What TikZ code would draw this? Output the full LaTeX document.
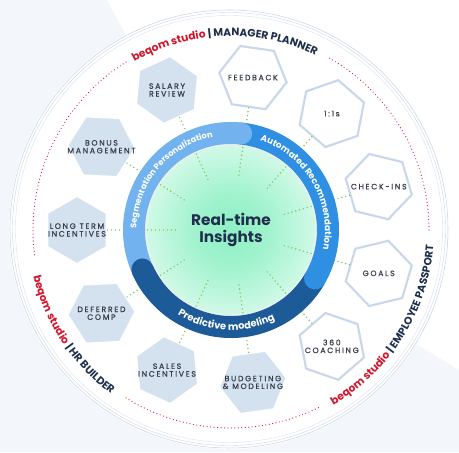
\documentclass[tikz,border=0pt]{standalone}
\usepackage{fontspec}
\setmainfont{Poppins}
\newfontfamily\hexfont[LetterSpace=22,FakeBold=0.6]{Poppins}
\usetikzlibrary{shapes.geometric,decorations.text}

\definecolor{bggrey}{HTML}{F3F6FA}
\definecolor{rimline}{HTML}{C9D5E3}
\definecolor{beqred}{HTML}{D3152B}
\definecolor{navy}{HTML}{1F2F4C}
\definecolor{ringlight}{HTML}{72B2EE}
\definecolor{ringmid}{HTML}{2E8FE3}
\definecolor{ringdark}{HTML}{1C5A98}
\definecolor{mint}{HTML}{8EF0C4}
\definecolor{dotgreen}{HTML}{82C65E}
\definecolor{hexblue}{HTML}{D4E2F0}
\definecolor{hexline}{HTML}{C8D8EA}
\definecolor{hextext}{HTML}{373C47}

\pgfdeclareradialshading{insightglow}{\pgfpoint{0bp}{0bp}}{color(0bp)=(mint); color(10bp)=(mint!85!white); color(38bp)=(white); color(50bp)=(white)}

\begin{document}
\begin{tikzpicture}[x=0.75pt, y=0.75pt,
	hexfull/.style={regular polygon, regular polygon sides=6, minimum size=51pt, inner sep=-12pt,
		fill=hexblue, draw=white, line width=1.4pt, text=hextext, align=center,
		font=\hexfont\fontsize{5.8}{5.8}\selectfont},
	hexopen/.style={hexfull, fill=white, draw=hexline, line width=1.6pt},
	link/.style={dotgreen, line width=1.2pt, line cap=round, dash pattern=on 0pt off 3pt},
	rimdots/.style={beqred, line width=0.9pt, line cap=round, dash pattern=on 0pt off 2.6pt},
	band/.style={line width=16.5pt}]
			\useasboundingbox (-231,-222) rectangle (228,230);
			% background and rim
			\fill[bggrey] (-231,-222) rectangle (228,230);
			\fill[white] (-124,230) -- (228,230) -- (228,-140) -- (0,0) -- cycle;
			\fill[white] (-2,1) circle[radius=220];
			\draw[rimline, line width=0.4pt] (-2,1) circle[radius=219];
			\draw[rimline, line width=0.3pt] (-2,1) circle[radius=216.5];
			\draw[rimline!70, line width=0.3pt] (-2,1) circle[radius=213.5];
			\draw[rimdots] (0:198) arc[start angle=0, end angle=61, radius=198];
			\draw[rimdots] (122:198) arc[start angle=122, end angle=188, radius=198];
			\draw[rimdots] (238:198) arc[start angle=238, end angle=297, radius=198];
			\path[decorate, decoration={text along path, text align=center,
				text={|\fontsize{8}{8}\bfseries\color{beqred}|beqom studio |\fontsize{8}{8}\bfseries\color{navy}|{|} MANAGER PLANNER}}]
				(132:194) arc[start angle=132, end angle=52, radius=194];
			\path[decorate, decoration={text along path, text align=center,
				text={|\fontsize{8}{8}\bfseries\color{beqred}|beqom studio |\fontsize{8}{8}\bfseries\color{navy}|{|} HR BUILDER}}]
				(173:203) arc[start angle=173, end angle=254, radius=203];
			\path[decorate, decoration={text along path, text align=center,
				text={|\fontsize{8}{8}\bfseries\color{beqred}|beqom studio |\fontsize{8}{8}\bfseries\color{navy}|{|} EMPLOYEE PASSPORT}}]
				(-72:203) arc[start angle=-72, end angle=8, radius=203];
			% centre
			\shade[shading=insightglow] (0,0) circle[radius=87];
			\draw[gray!12, line width=2pt] (0,0) circle[radius=86];
			\node[circle, minimum size=82pt, inner sep=0pt, align=center, text=navy,
				font=\fontsize{11.5}{12.5}\bfseries\selectfont] (insights) at (0,0) {Real-time\\Insights};
			% hexagons
			\node[hexfull, shape border rotate=90] (longterm) at (180:154) {LONG TERM\\INCENTIVES};
			\node[hexfull, shape border rotate=57.27] (bonus) at (147.27:154) {BONUS\\MANAGEMENT};
			\node[hexfull, shape border rotate=24.55] (salary) at (114.55:154) {SALARY\\REVIEW};
			\node[hexopen, shape border rotate=-8.18] (feedback) at (81.82:154) {FEEDBACK};
			\node[hexopen, shape border rotate=-40.91] (oneones) at (49.09:154) {1:1s};
			\node[hexopen, shape border rotate=-73.64] (checkins) at (16.36:154) {CHECK-INS};
			\node[hexopen, shape border rotate=-106.36] (goals) at (-16.36:154) {GOALS};
			\node[hexopen, shape border rotate=-139.09] (coaching) at (-49.09:154) {360\\COACHING};
			\node[hexfull, shape border rotate=-171.82] (budget) at (-81.82:154) {BUDGETING\\\& MODELING};
			\node[hexfull, shape border rotate=155.45] (sales) at (-114.55:154) {SALES\\INCENTIVES};
			\node[hexfull, shape border rotate=122.73] (deferred) at (-147.27:154) {DEFERRED\\COMP};
			% dotted links
			\draw[link] (longterm) -- (insights);
			\draw[link] (bonus) -- (insights);
			\draw[link] (salary) -- (insights);
			\draw[link] (feedback) -- (insights);
			\draw[link] (oneones) -- (insights);
			\draw[link] (checkins) -- (insights);
			\draw[link] (goals) -- (insights);
			\draw[link] (coaching) -- (insights);
			\draw[link] (budget) -- (insights);
			\draw[link] (sales) -- (insights);
			\draw[link] (deferred) -- (insights);
			% ring
			\draw[band, ringdark] (204:97) arc[start angle=204, end angle=330, radius=97];
			\draw[band, ringmid, line cap=round] (-30:97) arc[start angle=-30, end angle=84, radius=97];
			\draw[band, ringlight, line cap=round] (84:97) arc[start angle=84, end angle=204, radius=97];
			\draw[band, ringdark, line cap=round] (204:97) arc[start angle=204, end angle=216, radius=97];
			\path[decorate, decoration={text along path, text align=center,
				text={|\fontsize{6.2}{6.2}\bfseries\color{white}|Segmentation Personalization}}]
				(195:94.5) arc[start angle=195, end angle=85, radius=94.5];
			\path[decorate, decoration={text along path, text align=center,
				text={|\fontsize{6.7}{6.7}\bfseries\color{white}|Automated Recommendation}}]
				(78:94) arc[start angle=78, end angle=-18, radius=94];
			\path[decorate, decoration={text along path, text align=center,
				text={|\fontsize{7.4}{7.4}\bfseries\color{white}|Predictive modeling}}]
				(227:100) arc[start angle=227, end angle=307, radius=100];
		\end{tikzpicture}
\end{document}
